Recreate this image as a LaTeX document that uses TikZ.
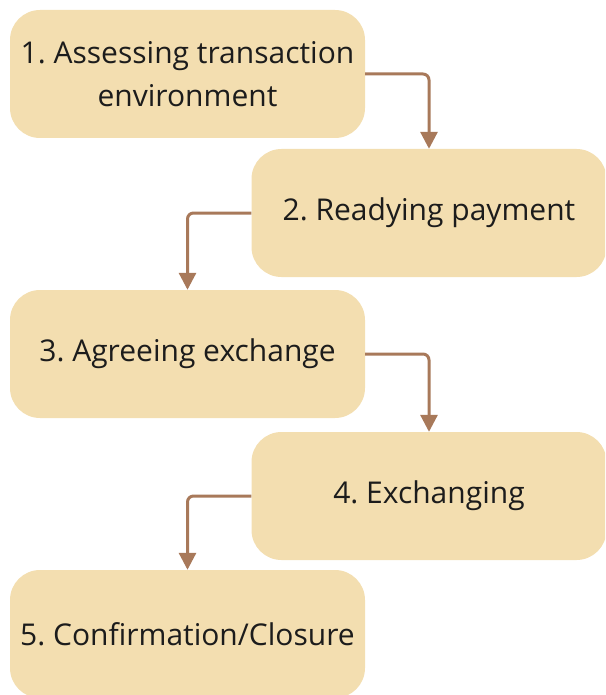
\documentclass[tikz,border=0pt]{standalone}
\usepackage{fontspec}
\setmainfont{Open Sans}
\usetikzlibrary{arrows.meta}
\definecolor{boxfill}{HTML}{F3DEB0}
\definecolor{linkcol}{HTML}{A8795A}
\definecolor{txt}{HTML}{1C1C1C}
\frenchspacing
\begin{document}
\begin{tikzpicture}[x=1pt,y=-1pt,
  stepbox/.style={fill=boxfill, rounded corners=30pt, minimum width=355pt,
    minimum height=128pt, align=center, text=txt, inner sep=0pt,
    font=\fontsize{30}{43}\selectfont},
  link/.style={draw=linkcol, line width=3pt, rounded corners=6pt,
    -{Triangle[length=17pt,width=17pt]}}]
\clip (0,0) rectangle (605,695);
\node[stepbox] (s1) at (187.5,74)  {1. Assessing transaction\\environment};
\node[stepbox] (s2) at (429,213)   {2. Readying payment};
\node[stepbox] (s3) at (187.5,354) {3. Agreeing exchange};
\node[stepbox] (s4) at (429,496)   {4. Exchanging};
\node[stepbox] (s5) at (187.5,634) {5. Confirmation/Closure};
\draw[link] (s1.east) -| (s2.north);
\draw[link] (s2.west) -| (s3.north);
\draw[link] (s3.east) -| (s4.north);
\draw[link] (s4.west) -| (s5.north);
\end{tikzpicture}
\end{document}
